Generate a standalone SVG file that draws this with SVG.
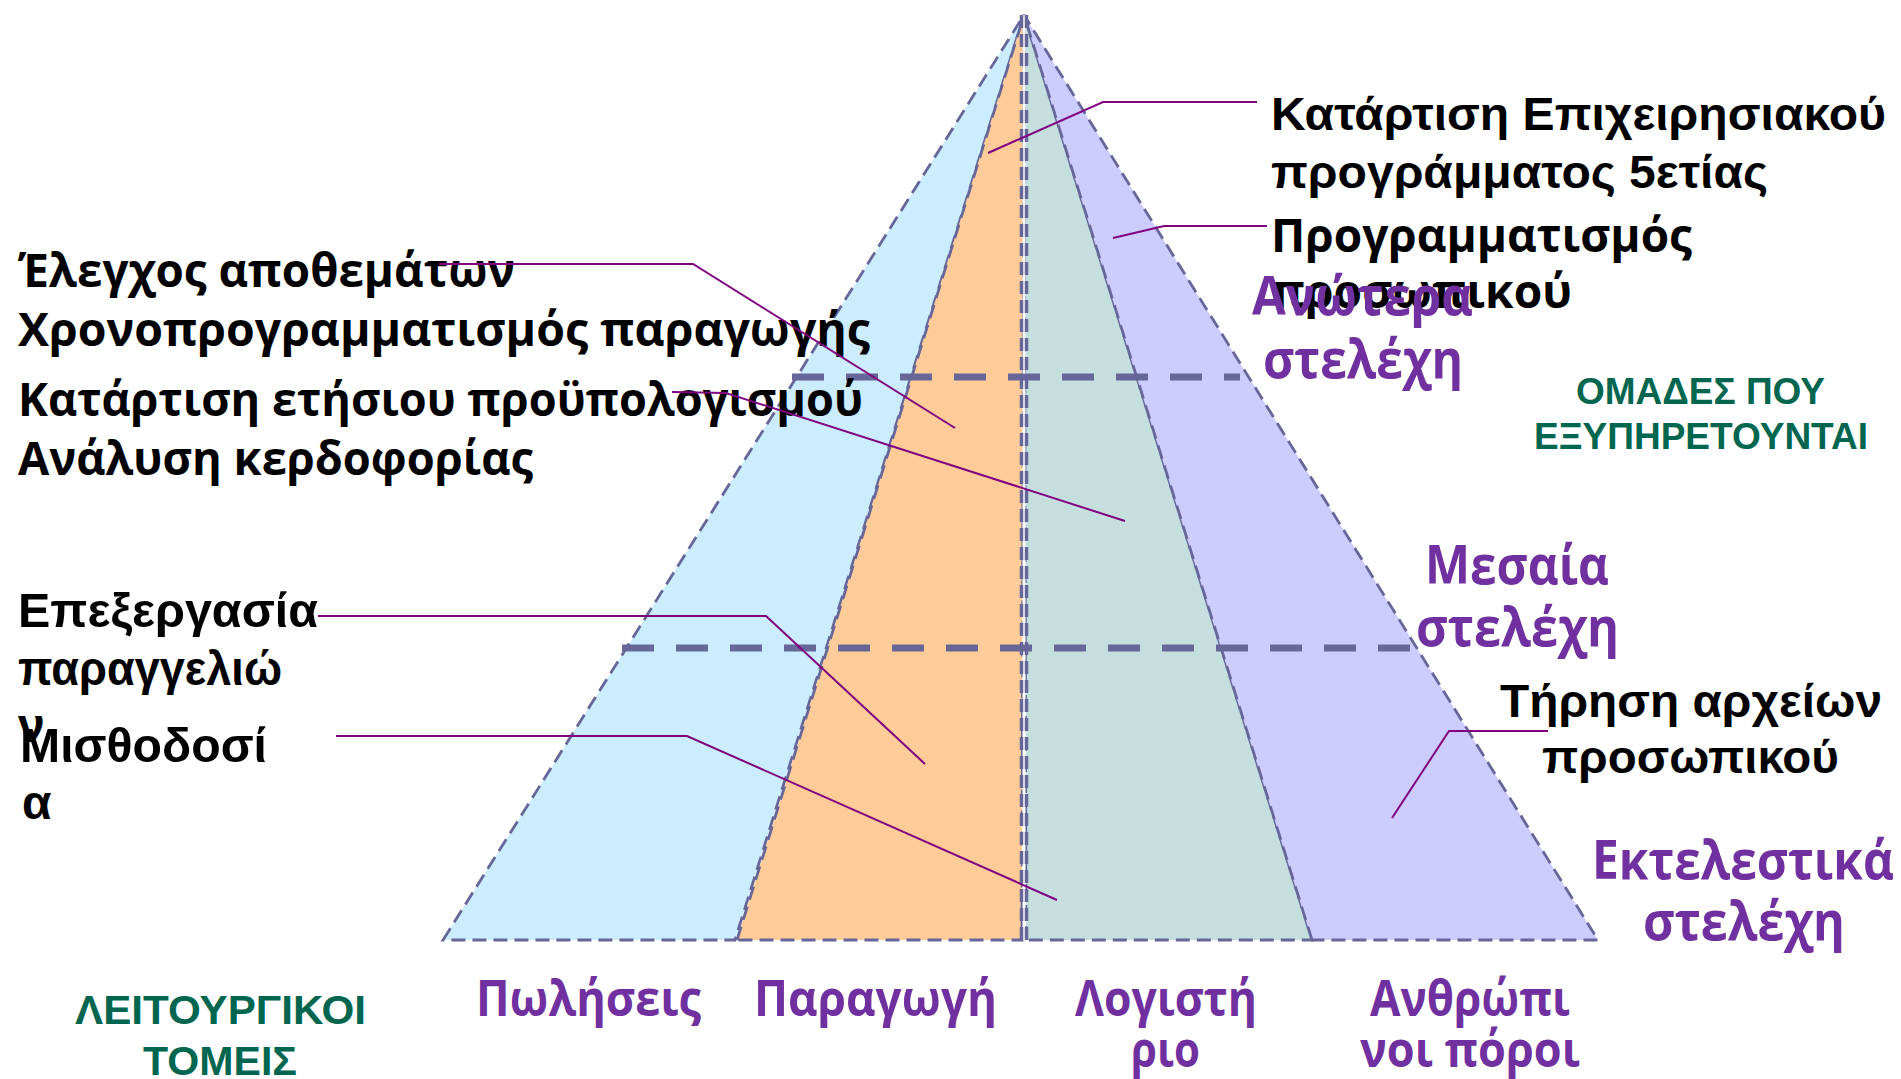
<svg xmlns="http://www.w3.org/2000/svg" width="1901" height="1079" viewBox="0 0 1901 1079">
<style>
.reg{stroke:#666699;stroke-width:2.8;stroke-dasharray:14 7}
.mid{fill:none;stroke:#666699;stroke-width:3.5;stroke-dasharray:13 6}
.lvl{fill:none;stroke:#666699;stroke-width:7;stroke-dasharray:32 22}
.con{fill:none;stroke:#800080;stroke-width:2}
.ar{font-family:"Liberation Sans",Arial,sans-serif;font-weight:bold}
.hu{font-family:"Open Sans","Noto Sans",sans-serif;font-weight:bold}
.blk{fill:#000}
.pur{fill:#7030A0}
.grn{fill:#00664F}
</style>
<rect width="1901" height="1079" fill="#fff"/>
<g id="pyramid">
<polygon id="sales" class="reg" fill="#CCECFF" points="443,940 1024,15 735,940"/>
<polygon id="production" class="reg" fill="#FFCC99" points="737,940 1024,15 1022,940"/>
<polygon id="accounting" class="reg" fill="#C5DFDF" points="1026,940 1024,15 1312,940"/>
<polygon id="hr" class="reg" fill="#CCCCFF" points="1312,940 1024,15 1598,940"/>
<line x1="1024" y1="15" x2="1024" y2="940" stroke="#fff" stroke-width="3"/>
<line class="mid" x1="1021.5" y1="15" x2="1021.5" y2="940"/>
<line class="mid" x1="1026.5" y1="15" x2="1026.5" y2="940"/>
<line id="level-top" class="lvl" x1="792" y1="377" x2="1240" y2="377"/>
<line id="level-mid" class="lvl" x1="622" y1="648" x2="1414" y2="648"/>
</g>
<g id="tasks-left">
<text class="hu blk" font-size="47" x="18" y="287" textLength="497" lengthAdjust="spacingAndGlyphs">Έλεγχος αποθεμάτων</text>
<text class="hu blk" font-size="47" x="18" y="346" textLength="852" lengthAdjust="spacingAndGlyphs">Χρονοπρογραμματισμός παραγωγής</text>
<text class="hu blk" font-size="47" x="18" y="416" textLength="845" lengthAdjust="spacingAndGlyphs">Κατάρτιση ετήσιου προϋπολογισμού</text>
<text class="hu blk" font-size="47" x="18" y="475" textLength="515" lengthAdjust="spacingAndGlyphs">Ανάλυση κερδοφορίας</text>
</g>
<g id="tasks-left-bottom">
<text class="ar blk" font-size="48" x="18" y="627" textLength="300" lengthAdjust="spacingAndGlyphs">Επεξεργασία</text>
<text class="ar blk" font-size="48" x="18" y="685" textLength="264" lengthAdjust="spacingAndGlyphs">παραγγελιώ</text>
<text class="ar blk" font-size="48" x="18" y="742">ν</text>
<text class="ar blk" font-size="48" x="20" y="762" textLength="247" lengthAdjust="spacingAndGlyphs">Μισθοδοσί</text>
<text class="ar blk" font-size="48" x="22" y="819">α</text>
</g>
<g id="tasks-right">
<text class="ar blk" font-size="46" x="1271" y="130" textLength="615" lengthAdjust="spacingAndGlyphs">Κατάρτιση Επιχειρησιακού</text>
<text class="ar blk" font-size="46" x="1271" y="188" textLength="497" lengthAdjust="spacingAndGlyphs">προγράμματος 5ετίας</text>
<text class="hu blk" font-size="47" x="1271" y="252" textLength="421" lengthAdjust="spacingAndGlyphs">Προγραμματισμός</text>
<text class="hu blk" font-size="47" x="1271" y="308" textLength="301" lengthAdjust="spacingAndGlyphs">προσωπικού</text>
<text class="ar blk" font-size="46" x="1500" y="717" textLength="382" lengthAdjust="spacingAndGlyphs">Τήρηση αρχείων</text>
<text class="ar blk" font-size="46" x="1542" y="773" textLength="297" lengthAdjust="spacingAndGlyphs">προσωπικού</text>
</g>
<g id="levels">
<text class="hu pur" font-size="53" x="1252" y="315" textLength="221" lengthAdjust="spacingAndGlyphs">Ανώτερα</text>
<text class="hu pur" font-size="53" x="1263" y="378" textLength="200" lengthAdjust="spacingAndGlyphs">στελέχη</text>
<text class="hu pur" font-size="53" x="1425" y="584" textLength="184" lengthAdjust="spacingAndGlyphs">Μεσαία</text>
<text class="hu pur" font-size="53" x="1416" y="646" textLength="203" lengthAdjust="spacingAndGlyphs">στελέχη</text>
<text class="hu pur" font-size="53" x="1592" y="879" textLength="302" lengthAdjust="spacingAndGlyphs">Εκτελεστικά</text>
<text class="hu pur" font-size="53" x="1643" y="940" textLength="202" lengthAdjust="spacingAndGlyphs">στελέχη</text>
</g>
<g id="groups-label">
<text class="ar grn" font-size="36" x="1576" y="404" textLength="249" lengthAdjust="spacingAndGlyphs">ΟΜΑΔΕΣ ΠΟΥ</text>
<text class="ar grn" font-size="36" x="1534" y="449" textLength="334" lengthAdjust="spacingAndGlyphs">ΕΞΥΠΗΡΕΤΟΥΝΤΑΙ</text>
</g>
<g id="sectors-label">
<text class="ar grn" font-size="41" x="75" y="1024" textLength="291" lengthAdjust="spacingAndGlyphs">ΛΕΙΤΟΥΡΓΙΚΟΙ</text>
<text class="ar grn" font-size="41" x="143" y="1075" textLength="154" lengthAdjust="spacingAndGlyphs">ΤΟΜΕΙΣ</text>
</g>
<g id="sectors">
<text class="hu pur" font-size="51" x="476" y="1016" textLength="225" lengthAdjust="spacingAndGlyphs">Πωλήσεις</text>
<text class="hu pur" font-size="51" x="754" y="1016" textLength="243" lengthAdjust="spacingAndGlyphs">Παραγωγή</text>
<text class="hu pur" font-size="51" x="1075" y="1016" textLength="182" lengthAdjust="spacingAndGlyphs">Λογιστή</text>
<text class="hu pur" font-size="51" x="1131" y="1067" textLength="69" lengthAdjust="spacingAndGlyphs">ριο</text>
<text class="hu pur" font-size="51" x="1370" y="1016" textLength="200" lengthAdjust="spacingAndGlyphs">Ανθρώπι</text>
<text class="hu pur" font-size="51" x="1360" y="1067" textLength="220" lengthAdjust="spacingAndGlyphs">νοι πόροι</text>
</g>
<g id="connectors">
<polyline class="con" points="1257,102 1103,102 988,153"/>
<polyline class="con" points="1267,226 1164,226 1113,238"/>
<polyline class="con" points="439,264 693,264 955,428"/>
<polyline class="con" points="672,392 726,393 1125,521"/>
<polyline class="con" points="318,616 766,616 925,764"/>
<polyline class="con" points="336,736 687,736 1057,900"/>
<polyline class="con" points="1548,731 1449,731 1392,818"/>
</g>
</svg>
